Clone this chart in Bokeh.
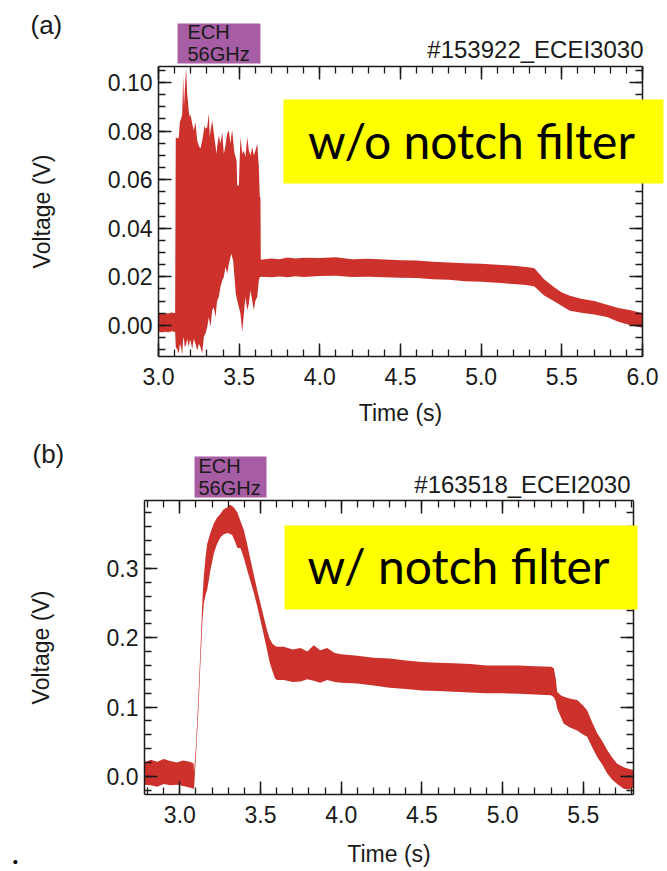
from bokeh.plotting import figure
from bokeh.models import (Range1d, LinearAxis, SingleIntervalTicker, NumeralTickFormatter,
                          CustomJSTickFormatter, BoxAnnotation, Label)
from bokeh.layouts import column
from bokeh.embed import file_html
from bokeh.resources import INLINE

# ---------------- data ----------------
# panel (a): shot #153922, channel ECEI3030, no notch filter (envelope of the noisy trace)
a_time = [3.000, 3.020, 3.040, 3.060, 3.080, 3.103, 3.107, 3.117, 3.126, 3.132,
          3.140, 3.147, 3.153, 3.158, 3.163, 3.171, 3.178, 3.182, 3.188, 3.194,
          3.198, 3.209, 3.219, 3.229, 3.240, 3.250, 3.260, 3.271, 3.281, 3.285,
          3.291, 3.302, 3.312, 3.318, 3.322, 3.333, 3.343, 3.353, 3.360, 3.364,
          3.374, 3.384, 3.395, 3.405, 3.415, 3.422, 3.426, 3.436, 3.446, 3.453,
          3.457, 3.463, 3.467, 3.471, 3.479, 3.484, 3.488, 3.498, 3.504, 3.508,
          3.519, 3.529, 3.539, 3.550, 3.560, 3.570, 3.581, 3.591, 3.601, 3.612,
          3.622, 3.628, 3.632, 3.634, 3.700, 3.750, 3.800, 3.850, 3.900, 4.000,
          4.100, 4.200, 4.300, 4.400, 4.500, 4.600, 4.700, 4.800, 4.900, 5.000,
          5.100, 5.200, 5.280, 5.330, 5.390, 5.450, 5.500, 5.550, 5.620, 5.700,
          5.780, 5.850, 5.920, 6.000]
a_upper = [0.0052, 0.0047, 0.0051, 0.0049, 0.0053, 0.0050, 0.0775, 0.0770, 0.0775, 0.0837,
           0.0850, 0.0872, 0.1030, 0.0900, 0.0967, 0.1060, 0.0950, 0.0926, 0.0880, 0.0857,
           0.0870, 0.0830, 0.0802, 0.0837, 0.0761, 0.0740, 0.0728, 0.0761, 0.0800, 0.0823,
           0.0810, 0.0816, 0.0872, 0.0775, 0.0800, 0.0844, 0.0790, 0.0740, 0.0706, 0.0740,
           0.0782, 0.0748, 0.0796, 0.0706, 0.0740, 0.0775, 0.0790, 0.0802, 0.0748, 0.0790,
           0.0802, 0.0760, 0.0734, 0.0710, 0.0690, 0.0679, 0.0576, 0.0576, 0.0700, 0.0775,
           0.0706, 0.0720, 0.0693, 0.0775, 0.0720, 0.0700, 0.0734, 0.0700, 0.0720, 0.0748,
           0.0651, 0.0528, 0.0528, 0.0270, 0.0275, 0.0272, 0.0280, 0.0276, 0.0279, 0.0278,
           0.0281, 0.0272, 0.0274, 0.0271, 0.0268, 0.0267, 0.0262, 0.0259, 0.0256, 0.0254,
           0.0250, 0.0246, 0.0241, 0.0235, 0.0190, 0.0158, 0.0135, 0.0122, 0.0110, 0.0100,
           0.0085, 0.0072, 0.0063, 0.0050]
a_lower = [-0.0025, -0.0029, -0.0026, -0.0028, -0.0024, -0.0027, -0.0089, -0.0100, -0.0116, -0.0075,
           -0.0090, -0.0123, -0.0048, -0.0060, -0.0089, -0.0080, -0.0055, -0.0070, -0.0089, -0.0062,
           -0.0062, -0.0096, -0.0055, -0.0075, -0.0103, -0.0075, -0.0089, -0.0116, -0.0048, -0.0040,
           -0.0034, -0.0007, 0.0034, 0.0010, -0.0007, 0.0062, 0.0075, 0.0034, 0.0080, 0.0103,
           0.0117, 0.0158, 0.0185, 0.0199, 0.0240, 0.0225, 0.0213, 0.0254, 0.0281, 0.0295,
           0.0280, 0.0267, 0.0230, 0.0199, 0.0130, 0.0115, 0.0103, 0.0075, 0.0060, 0.0048,
           -0.0027, 0.0048, 0.0117, 0.0062, 0.0089, 0.0144, 0.0103, 0.0062, 0.0103, 0.0117,
           0.0185, 0.0199, 0.0199, 0.0200, 0.0198, 0.0201, 0.0198, 0.0202, 0.0199, 0.0203,
           0.0204, 0.0199, 0.0200, 0.0198, 0.0196, 0.0195, 0.0190, 0.0188, 0.0182, 0.0180,
           0.0176, 0.0170, 0.0166, 0.0160, 0.0123, 0.0100, 0.0080, 0.0060, 0.0052, 0.0045,
           0.0035, 0.0015, 0.0002, -0.0010]

# panel (b): shot #163518, channel ECEI2030, with notch filter
b_time = [2.781, 2.820, 2.860, 2.900, 2.940, 2.980, 3.020, 3.060, 3.085, 3.088,
          3.100, 3.115, 3.128, 3.140, 3.149, 3.160, 3.170, 3.190, 3.211, 3.230,
          3.252, 3.270, 3.294, 3.310, 3.325, 3.340, 3.356, 3.376, 3.397, 3.418,
          3.438, 3.459, 3.480, 3.500, 3.520, 3.541, 3.556, 3.572, 3.590, 3.603,
          3.644, 3.700, 3.748, 3.790, 3.830, 3.870, 3.913, 3.960, 4.000, 4.100,
          4.200, 4.300, 4.400, 4.500, 4.600, 4.700, 4.800, 4.900, 5.000, 5.100,
          5.200, 5.300, 5.317, 5.330, 5.338, 5.360, 5.379, 5.420, 5.462, 5.500,
          5.524, 5.555, 5.586, 5.620, 5.648, 5.680, 5.710, 5.750, 5.780, 5.810]
b_upper = [0.020, 0.024, 0.021, 0.025, 0.022, 0.020, 0.023, 0.021, 0.019, 0.005,
           0.045, 0.115, 0.185, 0.255, 0.290, 0.318, 0.336, 0.352, 0.365, 0.373,
           0.379, 0.385, 0.388, 0.392, 0.390, 0.386, 0.381, 0.368, 0.355, 0.334,
           0.312, 0.290, 0.268, 0.249, 0.230, 0.210, 0.199, 0.192, 0.188, 0.187,
           0.187, 0.183, 0.185, 0.180, 0.189, 0.182, 0.185, 0.178, 0.176, 0.174,
           0.171, 0.170, 0.167, 0.165, 0.164, 0.163, 0.162, 0.160, 0.160, 0.160,
           0.159, 0.158, 0.156, 0.140, 0.122, 0.117, 0.115, 0.112, 0.110, 0.102,
           0.095, 0.078, 0.062, 0.050, 0.038, 0.027, 0.018, 0.013, 0.011, 0.009]
b_lower = [-0.012, -0.013, -0.015, -0.011, -0.013, -0.012, -0.014, -0.016, -0.018, -0.018,
           0.030, 0.095, 0.165, 0.225, 0.250, 0.262, 0.270, 0.298, 0.322, 0.335,
           0.345, 0.349, 0.351, 0.350, 0.348, 0.340, 0.330, 0.329, 0.315, 0.297,
           0.281, 0.264, 0.245, 0.225, 0.204, 0.182, 0.165, 0.153, 0.141, 0.139,
           0.139, 0.136, 0.137, 0.140, 0.138, 0.135, 0.139, 0.136, 0.135, 0.134,
           0.131, 0.128, 0.126, 0.124, 0.123, 0.122, 0.121, 0.120, 0.120, 0.119,
           0.118, 0.117, 0.114, 0.108, 0.098, 0.086, 0.076, 0.070, 0.066, 0.060,
           0.057, 0.042, 0.028, 0.016, 0.004, -0.005, -0.011, -0.018, -0.019, -0.016]

# ECH (56 GHz) heating windows, seconds
a_ech = [3.118, 3.632]
b_ech = [3.091, 3.537]

# axis limits of each panel
a_xlim = (3.0, 6.0)
a_ylim = (-0.0128, 0.1066)
b_xlim = (2.781, 5.811)
b_ylim = (-0.0262, 0.398)

a_shot = "#153922_ECEI3030"
b_shot = "#163518_ECEI2030"
a_note = "w/o notch filter"
b_note = "w/ notch filter"

# ---------------- styling ----------------
RED = "#CC312C"
PURPLE = "#A65DA3"
YELLOW = "#FFFF00"
INK = "#1A1A1A"
FONT = "Liberation Sans"
W = 667
HA = 432          # height of panel (a); panel (b) fills the rest of the 871 px page
HB = 871 - HA


def style_axis(ax, labels=True):
    ax.axis_line_color = INK
    ax.axis_line_width = 1.5
    ax.major_tick_line_color = INK
    ax.major_tick_line_width = 1.5
    ax.minor_tick_line_color = INK
    ax.minor_tick_line_width = 1.3
    ax.major_tick_in = 13
    ax.major_tick_out = 0
    ax.minor_tick_in = 7
    ax.minor_tick_out = 0
    ax.major_label_text_font = FONT
    ax.major_label_text_font_size = "23px"
    ax.major_label_text_color = INK
    ax.axis_label_text_font = FONT
    ax.axis_label_text_font_size = "23px"
    ax.axis_label_text_font_style = "normal"
    ax.axis_label_text_color = INK
    if not labels:
        ax.formatter = CustomJSTickFormatter(code="return ''")
        ax.major_label_text_font_size = "1px"
        ax.major_label_standoff = 0


def panel(height, top_off, box, xlim, ylim, y_step, y_fmt, t, hi, lo, ech, shot, note, tag,
          geo):
    # box = page-pixel position of the axes rectangle (left, right, top, bottom);
    # top_off = page y of this panel's top edge
    L, R, T, B = box
    T -= top_off
    B -= top_off
    kx = (R - L) / (xlim[1] - xlim[0])
    ky = (B - T) / (ylim[1] - ylim[0])
    x0 = xlim[0] - L / kx
    x1 = xlim[1] + (W - R) / kx
    y1 = ylim[1] + T / ky
    y0 = ylim[0] - (height - B) / ky
    X = lambda px: x0 + px / kx
    Y = lambda py: y1 - (py - top_off) / ky

    p = figure(width=W, height=height, x_range=Range1d(x0, x1), y_range=Range1d(y0, y1),
               title=None, output_backend="svg", toolbar_location=None,
               min_border=0, min_border_left=0, min_border_right=0,
               min_border_top=0, min_border_bottom=0)
    p.frame_align = False
    p.background_fill_color = "white"
    p.border_fill_color = "white"
    p.outline_line_color = None
    p.xgrid.visible = False
    p.ygrid.visible = False

    n_minor_y = 4 if y_step == 0.02 else 5
    xa = p.xaxis[0]
    xa.ticker = SingleIntervalTicker(interval=0.5, num_minor_ticks=5)
    xa.formatter = NumeralTickFormatter(format="0.0")
    xa.axis_label = "Time (s)"
    style_axis(xa)
    xa.fixed_location = ylim[0]
    xa.bounds = xlim
    xa.major_label_standoff = 11
    xa.axis_label_standoff = geo["xstand"]

    ya = p.yaxis[0]
    ya.ticker = SingleIntervalTicker(interval=y_step, num_minor_ticks=n_minor_y)
    ya.formatter = NumeralTickFormatter(format=y_fmt)
    ya.axis_label = "Voltage (V)"
    style_axis(ya)
    ya.fixed_location = xlim[0]
    ya.bounds = ylim
    ya.major_label_standoff = 6
    ya.axis_label_standoff = 50

    top = LinearAxis(ticker=SingleIntervalTicker(interval=0.5, num_minor_ticks=5),
                     fixed_location=ylim[1], bounds=xlim)
    style_axis(top, labels=False)
    p.add_layout(top, "above")
    right = LinearAxis(ticker=SingleIntervalTicker(interval=y_step, num_minor_ticks=n_minor_y),
                       fixed_location=xlim[1], bounds=ylim)
    style_axis(right, labels=False)
    p.add_layout(right, "right")

    # the signal envelope
    p.varea(x=t, y1=lo, y2=hi, fill_color=RED, fill_alpha=1.0)

    # ECH window bar above the axes
    p.quad(left=[ech[0]], right=[ech[1]], top=[Y(geo["ech_top"])], bottom=[Y(geo["ech_bot"])],
           fill_color=PURPLE, line_color=None)

    def lab(px, py, text, size, align, font=FONT, color=INK):
        # py is the wanted baseline (page pixels); the renderer sits text ~0.37 em lower
        s = float(size.rstrip("px"))
        p.add_layout(Label(x=X(px), y=Y(py - 0.37 * s), text=text, text_font=font,
                           text_font_size=size, text_color=color, text_align=align,
                           text_baseline="alphabetic"))

    yb = geo["yellow"]
    p.add_layout(BoxAnnotation(left=X(yb[0]), right=X(yb[1]), top=Y(yb[2]), bottom=Y(yb[3]),
                               fill_color=YELLOW, fill_alpha=1.0, line_color=None))
    lab(geo["note_x"], geo["note_b"], note, geo["note_size"], "center", font="Lato",
        color="black")
    lab(geo["ech_x"], geo["ech_b1"], "ECH", "20px", "left")
    lab(geo["ech_x"], geo["ech_b2"], "56GHz", "20px", "left")
    lab(geo["shot_x"], geo["shot_b"], shot, "24px", "right")
    lab(geo["tag_x"], geo["tag_b"], tag, "26px", "left")
    if "bullet" in geo:
        lab(geo["bullet"][0], geo["bullet"][1], "\u2022", "15px", "center", color="black")
    return p


pa = panel(HA, 0, (158, 642, 66, 356), a_xlim, a_ylim, 0.02, "0.00",
           a_time, a_upper, a_lower, a_ech, a_shot, a_note, "(a)",
           dict(xstand=12, ech_top=23, ech_bot=63, ech_x=187, ech_b1=39, ech_b2=61,
                shot_x=643, shot_b=58, tag_x=30, tag_b=34,
                yellow=(283, 663, 99, 183), note_x=471, note_b=158, note_size="48px"))

pb = panel(HB, HA, (144, 633, 500, 794), b_xlim, b_ylim, 0.1, "0.0",
           b_time, b_upper, b_lower, b_ech, b_shot, b_note, "(b)",
           dict(xstand=15, ech_top=456, ech_bot=497, ech_x=198, ech_b1=473, ech_b2=495,
                shot_x=630, shot_b=493, tag_x=32, tag_b=463,
                yellow=(284, 637, 525, 609), note_x=458, note_b=583, note_size="48px",
                bullet=(15, 867)))

layout = column(pa, pb, spacing=0)
open("out.html", "w").write(file_html(layout, INLINE))
